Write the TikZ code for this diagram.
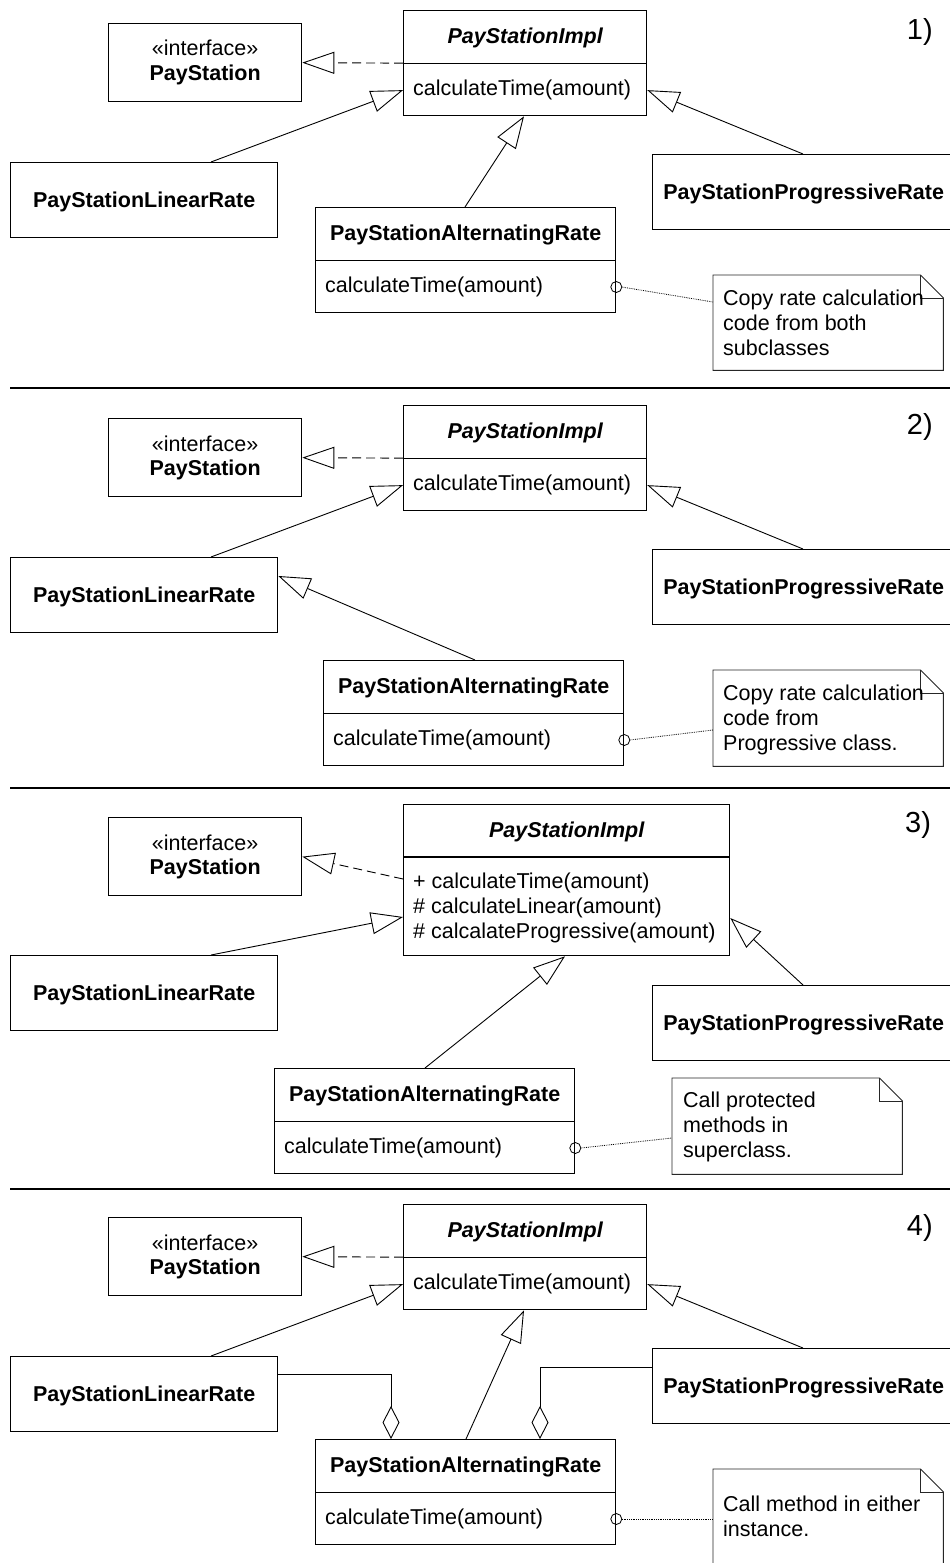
\documentclass[tikz,border=0pt]{standalone}
\usepackage{fontspec}
\setmainfont{Liberation Sans}
\usetikzlibrary{arrows.meta,calc}
\newcommand\fs{\fontsize{21.5}{25}\selectfont}
\tikzset{
  cls/.style={draw, line width=1.3pt, inner sep=0pt, anchor=north west},
  clsline/.style={line width=1.1pt},
  meth/.style={anchor=base west, inner sep=0pt, font=\fs},
  notearea/.style={inner sep=0pt, anchor=north west},
  notebox/.style={draw=black!85, line width=0.9pt, line join=miter},
  notetext/.style={anchor=north west, align=left, inner sep=0pt, font=\fs},
  genz/.style={line width=0.9pt, -{Triangle[open, length=32pt, width=22pt]}},
  realize/.style={genz, dash pattern=on 9pt off 5pt},
  aggr/.style={line width=0.9pt, -{Diamond[open, length=33pt, width=17pt]}},
  anchorline/.style={line width=0.8pt, densely dotted},
  lollipop/.style={line width=0.8pt},
  sepline/.style={line width=2pt},
  numlabel/.style={anchor=base west, inner sep=0pt, font=\fontsize{29}{33}\selectfont},
}
% interface box
\newcommand\iface[3]{%
  \node[cls, minimum width=193pt, minimum height=78pt] (#1) at (#2,#3) {};
  \node[anchor=base, font=\fs] (#1-s) at ($(#1.north)+(0,33)$) {«interface»};
  \node[anchor=base, font=\fs\bfseries] (#1-t) at ($(#1.north)+(0,57.5)$) {PayStation};}
% class with title and one method compartment
\newcommand\classtwo[6]{%
  \node[cls, minimum width=#4pt, minimum height=105pt] (#1) at (#2,#3) {};
  \node[anchor=base, font=\fs] (#1-t) at ($(#1.north)+(0,33.5)$) {#5};
  \draw[clsline] ($(#1.north west)+(0,53.5)$) -- ($(#1.north east)+(0,53.5)$);
  \node[meth] (#1-m) at ($(#1.north west)+(10,85.5)$) {#6};}
% class with title only
\newcommand\classone[5]{%
  \node[cls, minimum width=#4pt, minimum height=75pt] (#1) at (#2,#3) {};
  \node[anchor=base, font=\fs\bfseries] (#1-t) at ($(#1.center)+(0,7.5)$) {#5};}
% note with folded corner
\newcommand\dogear[1]{%
  \draw[notebox] (#1.north west) -- ($(#1.north east)+(-23,0)$) -- ($(#1.north east)+(0,23)$) -- (#1.south east) -- (#1.south west) -- cycle;
  \draw[notebox] ($(#1.north east)+(-23,0)$) -- ($(#1.north east)+(-23,23)$) -- ($(#1.north east)+(0,23)$);}
\begin{document}
\begin{tikzpicture}[x=1pt,y=-1pt]
\useasboundingbox (0,0) rectangle (950,1563);
\clip (0,0) rectangle (950,1563);

% ---------------- Panel 1 ----------------
\iface{ps1}{108}{23}
\classtwo{im1}{403}{10}{243}{\bfseries\itshape PayStationImpl}{calculateTime(amount)}
\classone{lr1}{10}{162}{267}{PayStationLinearRate}
\classone{pr1}{652}{154}{302}{PayStationProgressiveRate}
\classtwo{al1}{315}{207}{300}{\bfseries PayStationAlternatingRate}{calculateTime(amount)}
\node[notearea, minimum width=230pt, minimum height=95pt] (nt1) at (713,275) {};
\dogear{nt1}
\node[notetext] (nt1-x) at ($(nt1.north west)+(10,15)$) {Copy rate calculation\\code from both\\subclasses};
\draw[realize] (im1.west) -- (ps1.east);
\draw[genz] ($(lr1.north west)+(201,0)$) -- ($(im1.west)+(0,27)$);
\draw[genz] ($(pr1.north west)+(151,0)$) -- ($(im1.east)+(0,27)$);
\draw[genz] ($(al1.north west)+(150,0)$) -- ($(im1.south west)+(121,0)$);
\coordinate (c1) at ($(al1.north east)+(0,80)$);
\draw[lollipop] (c1) circle[radius=5.5pt];
\draw[anchorline] ($(c1)+(5.5,0)$) -- ($(nt1.north west)+(0,27)$);
\node[numlabel] (n1) at (906.7,39.3) {1)};
\draw[sepline] (10,388) -- (950,388);

% ---------------- Panel 2 ----------------
\iface{ps2}{108}{418}
\classtwo{im2}{403}{405}{243}{\bfseries\itshape PayStationImpl}{calculateTime(amount)}
\classone{lr2}{10}{557}{267}{PayStationLinearRate}
\classone{pr2}{652}{549}{302}{PayStationProgressiveRate}
\classtwo{al2}{323}{660}{300}{\bfseries PayStationAlternatingRate}{calculateTime(amount)}
\node[notearea, minimum width=230pt, minimum height=96pt] (nt2) at (713,670) {};
\dogear{nt2}
\node[notetext] (nt2-x) at ($(nt2.north west)+(10,15)$) {Copy rate calculation\\code from\\Progressive class.};
\draw[realize] (im2.west) -- (ps2.east);
\draw[genz] ($(lr2.north west)+(201,0)$) -- ($(im2.west)+(0,27)$);
\draw[genz] ($(pr2.north west)+(151,0)$) -- ($(im2.east)+(0,27)$);
\draw[genz] ($(al2.north west)+(152,0)$) -- ($(lr2.north east)+(0,19)$);
\coordinate (c2) at ($(al2.north east)+(0,80)$);
\draw[lollipop] (c2) circle[radius=5.5pt];
\draw[anchorline] ($(c2)+(5.5,0)$) -- ($(nt2.north west)+(0,60)$);
\node[numlabel] (n2) at (906.7,434.5) {2)};
\draw[sepline] (10,788) -- (950,788);

% ---------------- Panel 3 ----------------
\iface{ps3}{108}{817}
\node[cls, minimum width=326pt, minimum height=151pt] (im3) at (403,804) {};
\node[anchor=base, font=\fs\bfseries\itshape] (im3-t) at ($(im3.north)+(0,33.5)$) {PayStationImpl};
\draw[clsline] ($(im3.north west)+(0,53)$) -- ($(im3.north east)+(0,53)$);
\node[notetext] (im3-m) at ($(im3.north west)+(10,69)$) {+ calculateTime(amount)\\\# calculateLinear(amount)\\\# calcalateProgressive(amount)};
\classone{lr3}{10}{955}{267}{PayStationLinearRate}
\classone{pr3}{652}{985}{302}{PayStationProgressiveRate}
\classtwo{al3}{274}{1068}{300}{\bfseries PayStationAlternatingRate}{calculateTime(amount)}
\node[notearea, minimum width=230pt, minimum height=96pt] (nt3) at (672,1078) {};
\dogear{nt3}
\node[notetext] (nt3-x) at ($(nt3.north west)+(11,13.5)$) {Call protected\\methods in\\superclass.};
\draw[realize] ($(im3.north west)+(0,75)$) -- (ps3.east);
\draw[genz] ($(lr3.north west)+(201,0)$) -- ($(im3.north west)+(0,113)$);
\draw[genz] ($(pr3.north west)+(151,0)$) -- ($(im3.north east)+(0,114)$);
\draw[genz] ($(al3.north west)+(151,0)$) -- ($(im3.south west)+(162,0)$);
\coordinate (c3) at ($(al3.north east)+(0,80)$);
\draw[lollipop] (c3) circle[radius=5.5pt];
\draw[anchorline] ($(c3)+(5.5,0)$) -- ($(nt3.north west)+(0,60)$);
\node[numlabel] (n3) at (905,832.7) {3)};
\draw[sepline] (10,1189) -- (950,1189);

% ---------------- Panel 4 ----------------
\iface{ps4}{108}{1217}
\classtwo{im4}{403}{1204}{243}{\bfseries\itshape PayStationImpl}{calculateTime(amount)}
\classone{lr4}{10}{1356}{267}{PayStationLinearRate}
\classone{pr4}{652}{1348}{302}{PayStationProgressiveRate}
\classtwo{al4}{315}{1439}{300}{\bfseries PayStationAlternatingRate}{calculateTime(amount)}
\node[notearea, minimum width=230pt, minimum height=120pt] (nt4) at (713,1469) {};
\dogear{nt4}
\node[notetext] (nt4-x) at ($(nt4.north west)+(10,26.5)$) {Call method in either\\instance.};
\draw[realize] (im4.west) -- (ps4.east);
\draw[genz] ($(lr4.north west)+(201,0)$) -- ($(im4.west)+(0,27)$);
\draw[genz] ($(pr4.north west)+(151,0)$) -- ($(im4.east)+(0,27)$);
\draw[genz] ($(al4.north west)+(151,0)$) -- ($(im4.south west)+(121,0)$);
\draw[aggr] ($(lr4.north east)+(0,18)$) -| ($(al4.north west)+(76,0)$);
\draw[aggr] ($(pr4.north west)+(0,19)$) -| ($(al4.north west)+(225,0)$);
\coordinate (c4) at ($(al4.north east)+(0,80)$);
\draw[lollipop] (c4) circle[radius=5.5pt];
\draw[anchorline] ($(c4)+(5.5,0)$) -- ($(nt4.north west)+(0,50)$);
\node[numlabel] (n4) at (906.7,1235) {4)};
\end{tikzpicture}
\end{document}
